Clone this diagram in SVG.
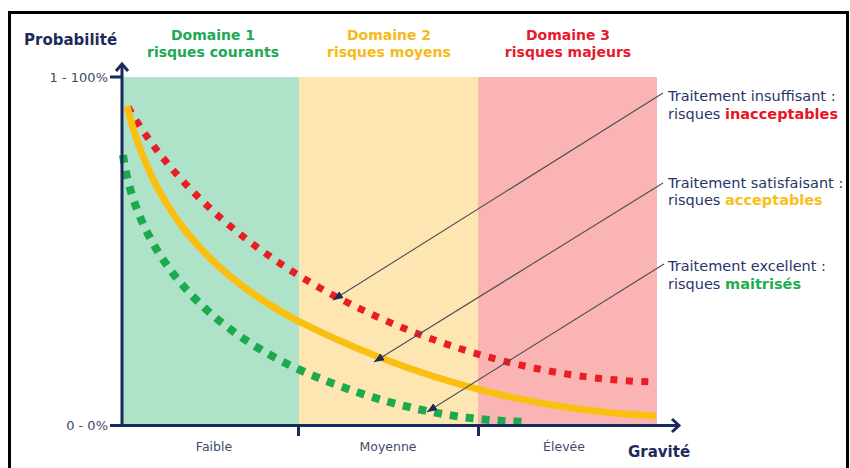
<svg xmlns="http://www.w3.org/2000/svg" width="850" height="468" viewBox="0 0 850 468">
<defs>
<style>
text{font-family:"DejaVu Sans",Verdana,sans-serif}
.ttl{font-weight:bold;font-size:14px;text-anchor:middle}
.ax{font-weight:bold;font-size:15px;fill:#1f2a5c}
.tick{font-size:13px;fill:#414a6e}
.cat{font-size:12.5px;fill:#414a6e;text-anchor:middle}
.lbl{font-size:14.5px;fill:#283568}
.axis{stroke:#1b2a5c;stroke-width:3;fill:none}
.lead{stroke:#4d4d55;stroke-width:1.1;fill:none;marker-end:url(#ah)}
</style>
<marker id="ah" viewBox="0 0 10 10" refX="10" refY="5" markerWidth="10" markerHeight="10" markerUnits="userSpaceOnUse" orient="auto">
<path d="M0,1 L10,5 L0,9 Z" fill="#1b2a5c"/>
</marker>
</defs>
<rect x="9.5" y="12.5" width="838" height="470" fill="#fff" stroke="#000" stroke-width="3"/>
<g id="zones">
<rect x="122" y="77" width="177" height="348" fill="#aee3c9"/>
<rect x="299" y="77" width="179" height="348" fill="#fde6b2"/>
<rect x="478" y="77" width="179" height="348" fill="#fbb4b4"/>
</g>
<g id="titles">
<text class="ttl" x="213" y="40" fill="#1fa855">Domaine 1</text>
<text class="ttl" x="213" y="57" fill="#1fa855">risques courants</text>
<text class="ttl" x="389" y="40" fill="#f5b918">Domaine 2</text>
<text class="ttl" x="389" y="57" fill="#f5b918">risques moyens</text>
<text class="ttl" x="568" y="40" fill="#e8192c">Domaine 3</text>
<text class="ttl" x="568" y="57" fill="#e8192c">risques majeurs</text>
</g>
<g id="curves" fill="none">
<path id="curve-red" d="M128,107 C170,180 240,243 320,288 C420,344 540,380 656,382" stroke="#ea1c24" stroke-width="7" stroke-dasharray="7 8.5"/>
<path id="curve-yellow" d="M127,106 C150,200 200,270 300,322 C400,372 520,410 656,416" stroke="#fbbf12" stroke-width="7"/>
<path id="curve-green" d="M123,155 C135,240 190,320 300,370 C380,405 450,420 526,422" stroke="#1daa4e" stroke-width="8" stroke-dasharray="8 8"/>
</g>
<g id="axes">
<line class="axis" x1="122" y1="64" x2="122" y2="426"/>
<path class="axis" d="M116,71 L122,64 L128,71"/>
<line class="axis" x1="110" y1="425.5" x2="679" y2="425.5"/>
<path class="axis" d="M672,419 L679,425.5 L672,432"/>
<line class="axis" x1="110" y1="77" x2="122" y2="77"/>
<line class="axis" x1="298.5" y1="425" x2="298.5" y2="436"/>
<line class="axis" x1="478.5" y1="425" x2="478.5" y2="436"/>
<text class="ax" x="24" y="45">Probabilité</text>
<text class="ax" x="628" y="457">Gravité</text>
<text class="tick" x="108" y="82" text-anchor="end">1 - 100%</text>
<text class="tick" x="108" y="430" text-anchor="end">0 - 0%</text>
<text class="cat" x="214" y="451">Faible</text>
<text class="cat" x="388" y="451">Moyenne</text>
<text class="cat" x="564" y="451">Élevée</text>
</g>
<g id="connectors">
<line class="lead" x1="663" y1="93" x2="333" y2="300"/>
<line class="lead" x1="663" y1="183" x2="374" y2="362"/>
<line class="lead" x1="664" y1="264" x2="427" y2="412"/>
</g>
<g id="label-insuffisant">
<text class="lbl" x="668" y="101">Traitement insuffisant :</text>
<text class="lbl" x="668" y="118.5">risques <tspan font-weight="bold" fill="#e8151f">inacceptables</tspan></text>
</g>
<g id="label-satisfaisant">
<text class="lbl" x="668" y="187.5">Traitement satisfaisant :</text>
<text class="lbl" x="668" y="205">risques <tspan font-weight="bold" fill="#f7c01b">acceptables</tspan></text>
</g>
<g id="label-excellent">
<text class="lbl" x="668" y="271">Traitement excellent :</text>
<text class="lbl" x="668" y="288.5">risques <tspan font-weight="bold" fill="#22ae4c">maitrisés</tspan></text>
</g>
</svg>
